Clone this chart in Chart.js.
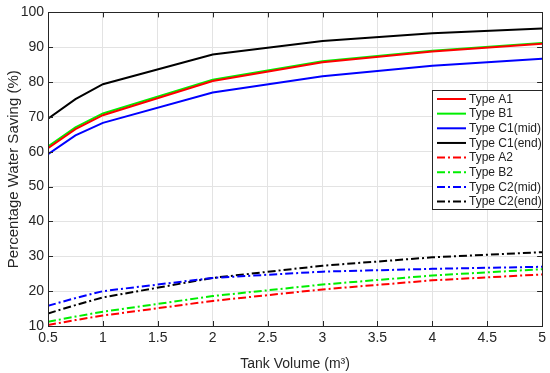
<!DOCTYPE html>
<html>
<head>
<meta charset="utf-8">
<script src="https://cdn.jsdelivr.net/npm/chart.js@4"></script>
<style>
  html, body { margin: 0; padding: 0; background: #fff; }
  #wrap { width: 550px; height: 373px; }
</style>
</head>
<body>
<div id="wrap"><canvas id="chart"></canvas></div>
<script>
const volumes = [0.5, 0.75, 1, 2, 3, 4, 5];

const typeA1 = [61.0, 66.5, 70.5, 80.3, 85.7, 88.8, 91.0];
const typeB1 = [61.5, 67.0, 71.0, 80.7, 86.0, 89.0, 91.2];
const typeC1mid = [59.3, 64.7, 68.3, 77.0, 81.7, 84.7, 86.7];
const typeC1end = [69.5, 75.1, 79.4, 87.9, 91.8, 94.0, 95.4];
const typeA2 = [10.3, 11.7, 13.0, 17.2, 20.5, 23.1, 24.8];
const typeB2 = [11.2, 12.7, 14.1, 18.6, 21.9, 24.5, 26.3];
const typeC2mid = [15.8, 18.0, 20.0, 23.8, 25.6, 26.4, 27.0];
const typeC2end = [13.6, 16.0, 18.2, 23.8, 27.3, 29.7, 31.2];

const seriesNames = ["Type A1", "Type B1", "Type C1(mid)", "Type C1(end)",
                     "Type A2", "Type B2", "Type C2(mid)", "Type C2(end)"];
const seriesData = [typeA1, typeB1, typeC1mid, typeC1end, typeA2, typeB2, typeC2mid, typeC2end];
const seriesColors = ["#ff0000", "#00ee00", "#0000ff", "#000000",
                      "#ff0000", "#00ee00", "#0000ff", "#000000"];
const dashDot = [8, 3, 2, 3];

const datasets = seriesData.map((vals, i) => ({
  label: seriesNames[i],
  data: vals.map((v, j) => ({ x: volumes[j], y: v })),
  borderColor: seriesColors[i],
  borderWidth: 2,
  borderDash: i >= 4 ? dashDot : [],
  pointRadius: 0,
  fill: false,
  tension: 0
}));

const axisColor = "#262626";
const fontFamily = "'Liberation Sans', Arial, sans-serif";

// box, inward ticks and the legend inside the plot (MATLAB look)
const framePlugin = {
  id: "frame",
  afterDraw(chart) {
    const { ctx, chartArea: a, scales } = chart;
    ctx.save();
    ctx.strokeStyle = axisColor;
    ctx.lineWidth = 1;
    const tl = 5;
    ctx.beginPath();
    scales.x.ticks.forEach(t => {
      const px = Math.round(scales.x.getPixelForValue(t.value)) + 0.5;
      ctx.moveTo(px, a.bottom); ctx.lineTo(px, a.bottom - tl);
      ctx.moveTo(px, a.top); ctx.lineTo(px, a.top + tl);
    });
    scales.y.ticks.forEach(t => {
      const py = Math.round(scales.y.getPixelForValue(t.value)) + 0.5;
      ctx.moveTo(a.left, py); ctx.lineTo(a.left + tl, py);
      ctx.moveTo(a.right, py); ctx.lineTo(a.right - tl, py);
    });
    ctx.stroke();
    ctx.strokeRect(Math.round(a.left) + 0.5, Math.round(a.top) + 0.5,
                   Math.round(a.right - a.left), Math.round(a.bottom - a.top));

    // legend
    const bx = 432.5, by = 90.5, bw = 110, bh = 119;
    ctx.fillStyle = "#fff";
    ctx.fillRect(bx, by, bw, bh);
    ctx.strokeStyle = axisColor;
    ctx.strokeRect(bx, by, bw, bh);
    ctx.font = "12px " + fontFamily;
    ctx.textBaseline = "middle";
    chart.data.datasets.forEach((ds, i) => {
      const y = 99 + i * 14.65;
      ctx.strokeStyle = ds.borderColor;
      ctx.lineWidth = 2;
      ctx.setLineDash(ds.borderDash);
      ctx.beginPath();
      ctx.moveTo(437, y); ctx.lineTo(466, y);
      ctx.stroke();
      ctx.setLineDash([]);
      ctx.fillStyle = "#222";
      ctx.fillText(ds.label, 469, y + 0.5);
    });
    ctx.restore();
  }
};

new Chart(document.getElementById("chart").getContext("2d"), {
  type: "line",
  data: { datasets: datasets },
  plugins: [framePlugin],
  options: {
    responsive: true,
    maintainAspectRatio: false,
    animation: false,
    layout: { padding: { top: 9, right: 7, left: 0, bottom: 0 } },
    plugins: {
      legend: { display: false },
      tooltip: { enabled: false }
    },
    scales: {
      x: {
        type: "linear",
        min: 0.5,
        max: 5,
        afterFit: s => { s.height = 47; },
        ticks: {
          stepSize: 0.5,
          color: axisColor,
          padding: 4,
          maxRotation: 0,
          callback: v => String(v),
          font: { family: fontFamily, size: 14 }
        },
        grid: { color: "#e3e3e3", drawTicks: false },
        border: { display: false },
        title: {
          display: true,
          text: "Tank Volume (m³)",
          color: axisColor,
          padding: { top: 4, bottom: 0 },
          font: { family: fontFamily, size: 14 }
        }
      },
      y: {
        min: 10,
        max: 100,
        afterFit: s => { s.width = 48; },
        ticks: {
          stepSize: 10,
          color: axisColor,
          padding: 4,
          font: { family: fontFamily, size: 14 }
        },
        grid: { color: "#e3e3e3", drawTicks: false },
        border: { display: false },
        title: {
          display: true,
          text: "Percentage Water Saving (%)",
          color: axisColor,
          padding: { top: 5, bottom: 0 },
          font: { family: fontFamily, size: 15 }
        }
      }
    }
  }
});
</script>
</body>
</html>
